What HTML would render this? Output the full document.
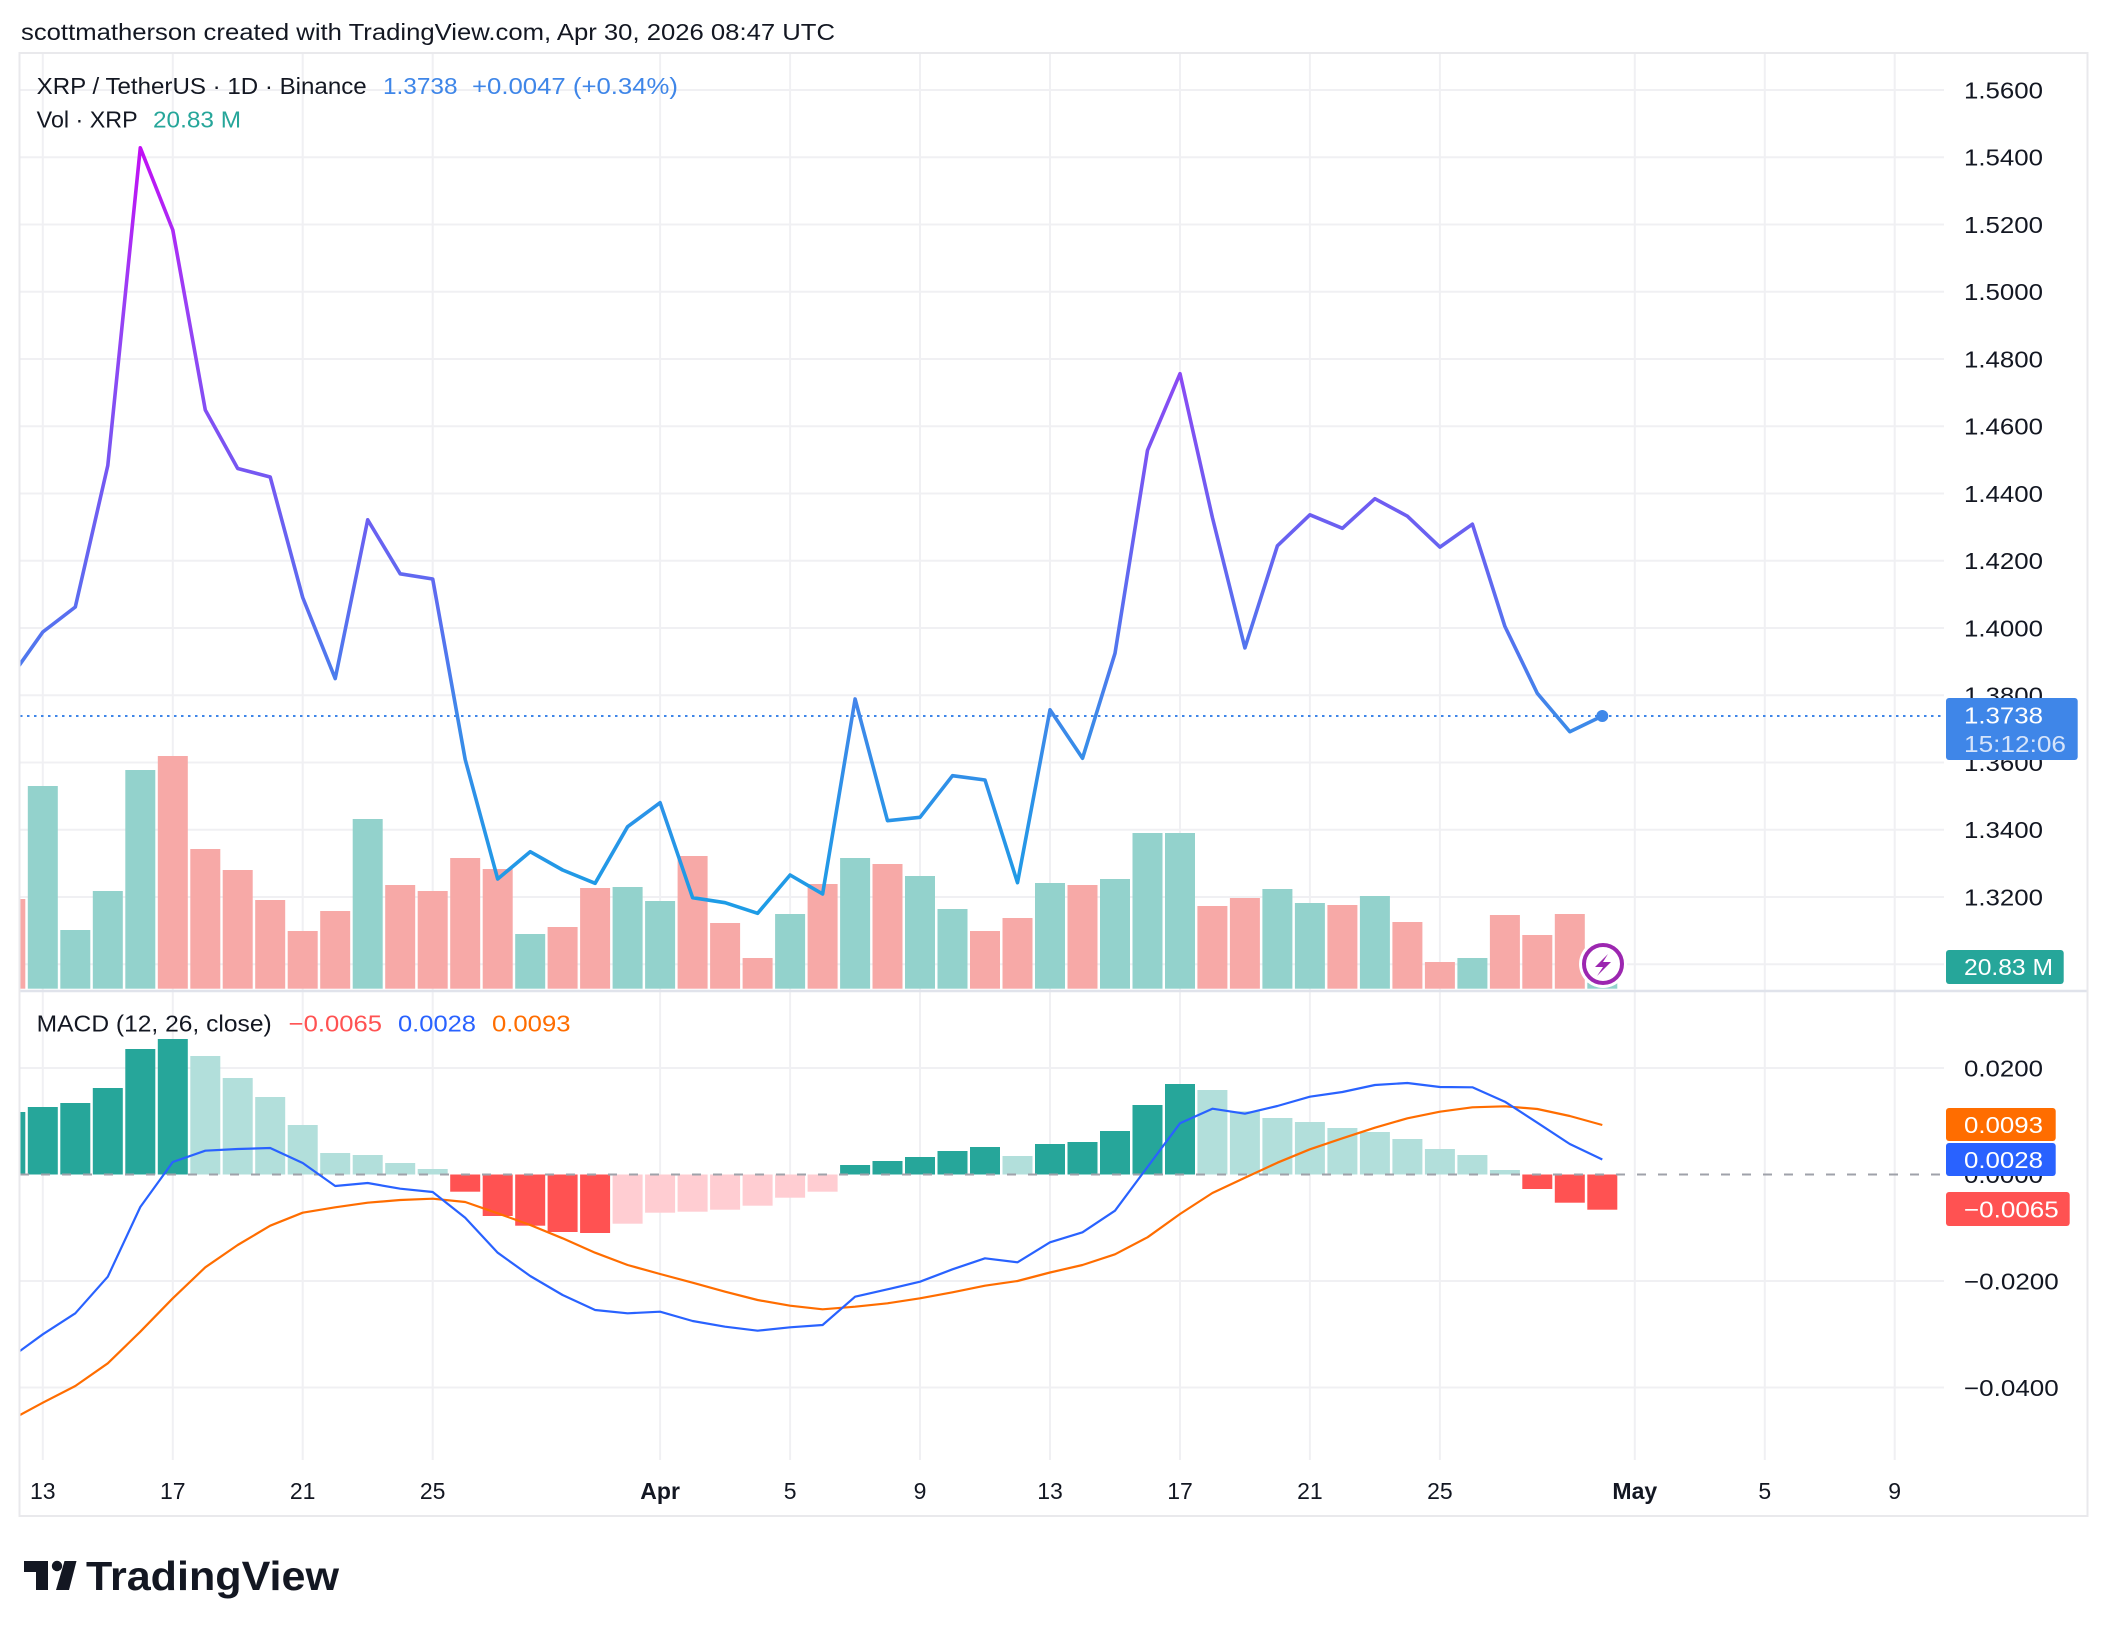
<!DOCTYPE html>
<html>
<head>
<meta charset="utf-8">
<style>
  html,body{margin:0;padding:0;background:#ffffff;}
  body{width:2108px;height:1636px;overflow:hidden;}
  svg{display:block;}
  text{font-family:"Liberation Sans",Arial,sans-serif;}
</style>
</head>
<body>
<svg width="2108" height="1636" viewBox="0 0 2108 1636" xmlns="http://www.w3.org/2000/svg">
  <defs>
    <clipPath id="pricePane"><rect x="20" y="54" width="1924" height="936"/></clipPath>
    <clipPath id="macdPane"><rect x="20" y="992" width="1924" height="468"/></clipPath>
    <linearGradient id="pg" gradientUnits="userSpaceOnUse" x1="0" y1="140" x2="0" y2="920">
      <stop offset="0.01" stop-color="#c20ef5"/>
      <stop offset="0.205" stop-color="#9a3ff5"/>
      <stop offset="0.423" stop-color="#7657f2"/>
      <stop offset="0.59" stop-color="#5c6cf0"/>
      <stop offset="0.667" stop-color="#4f78ee"/>
      <stop offset="0.738" stop-color="#3f88e9"/>
      <stop offset="0.846" stop-color="#2c92e8"/>
      <stop offset="0.974" stop-color="#1e9ce6"/>
    </linearGradient>
  </defs>

  <rect x="0" y="0" width="2108" height="1636" fill="#ffffff"/>

  <!-- Title -->
  <text x="21" y="40" font-size="23" fill="#131722" textLength="814" lengthAdjust="spacingAndGlyphs">scottmatherson created with TradingView.com, Apr 30, 2026 08:47 UTC</text>

  <!-- vertical grid -->
  <g stroke="#f0f0f3" stroke-width="2">
    <line x1="42.8" y1="54" x2="42.8" y2="1460"/>
    <line x1="172.8" y1="54" x2="172.8" y2="1460"/>
    <line x1="302.7" y1="54" x2="302.7" y2="1460"/>
    <line x1="432.7" y1="54" x2="432.7" y2="1460"/>
    <line x1="660.1" y1="54" x2="660.1" y2="1460"/>
    <line x1="790.1" y1="54" x2="790.1" y2="1460"/>
    <line x1="920" y1="54" x2="920" y2="1460"/>
    <line x1="1050" y1="54" x2="1050" y2="1460"/>
    <line x1="1180" y1="54" x2="1180" y2="1460"/>
    <line x1="1309.9" y1="54" x2="1309.9" y2="1460"/>
    <line x1="1439.9" y1="54" x2="1439.9" y2="1460"/>
    <line x1="1634.8" y1="54" x2="1634.8" y2="1460"/>
    <line x1="1764.8" y1="54" x2="1764.8" y2="1460"/>
    <line x1="1894.7" y1="54" x2="1894.7" y2="1460"/>
  </g>
  <!-- horizontal price grid -->
  <g stroke="#f0f0f3" stroke-width="2">
    <line x1="20" y1="90" x2="1944" y2="90"/>
    <line x1="20" y1="157.25" x2="1944" y2="157.25"/>
    <line x1="20" y1="224.5" x2="1944" y2="224.5"/>
    <line x1="20" y1="291.75" x2="1944" y2="291.75"/>
    <line x1="20" y1="359" x2="1944" y2="359"/>
    <line x1="20" y1="426.25" x2="1944" y2="426.25"/>
    <line x1="20" y1="493.5" x2="1944" y2="493.5"/>
    <line x1="20" y1="560.75" x2="1944" y2="560.75"/>
    <line x1="20" y1="628" x2="1944" y2="628"/>
    <line x1="20" y1="695.25" x2="1944" y2="695.25"/>
    <line x1="20" y1="762.5" x2="1944" y2="762.5"/>
    <line x1="20" y1="829.75" x2="1944" y2="829.75"/>
    <line x1="20" y1="897" x2="1944" y2="897"/>
    <line x1="20" y1="964.25" x2="1944" y2="964.25"/>
    <!-- macd grid -->
    <line x1="20" y1="1068" x2="1944" y2="1068"/>
    <line x1="20" y1="1281" x2="1944" y2="1281"/>
    <line x1="20" y1="1387.5" x2="1944" y2="1387.5"/>
  </g>

  <!-- Volume bars -->
  <g clip-path="url(#pricePane)">
    <g fill="#f7a9a7">
      <rect x="-4.7" y="899" width="30" height="89.7"/>
      <rect x="157.8" y="756" width="30" height="232.7"/>
      <rect x="190.3" y="849" width="30" height="139.7"/>
      <rect x="222.7" y="870" width="30" height="118.7"/>
      <rect x="255.2" y="900" width="30" height="88.7"/>
      <rect x="287.7" y="931" width="30" height="57.7"/>
      <rect x="320.2" y="911" width="30" height="77.7"/>
      <rect x="385.2" y="885" width="30" height="103.7"/>
      <rect x="417.7" y="891" width="30" height="97.7"/>
      <rect x="450.2" y="858" width="30" height="130.7"/>
      <rect x="482.7" y="869" width="30" height="119.7"/>
      <rect x="547.6" y="927" width="30" height="61.7"/>
      <rect x="580.1" y="888" width="30" height="100.7"/>
      <rect x="677.6" y="856" width="30" height="132.7"/>
      <rect x="710.1" y="923" width="30" height="65.7"/>
      <rect x="742.6" y="958" width="30" height="30.7"/>
      <rect x="807.6" y="884" width="30" height="104.7"/>
      <rect x="872.5" y="864" width="30" height="124.7"/>
      <rect x="970" y="931" width="30" height="57.7"/>
      <rect x="1002.5" y="918" width="30" height="70.7"/>
      <rect x="1067.5" y="885" width="30" height="103.7"/>
      <rect x="1197.4" y="906" width="30" height="82.7"/>
      <rect x="1229.9" y="898" width="30" height="90.7"/>
      <rect x="1327.4" y="905" width="30" height="83.7"/>
      <rect x="1392.4" y="922" width="30" height="66.7"/>
      <rect x="1424.9" y="962" width="30" height="26.7"/>
      <rect x="1489.9" y="915" width="30" height="73.7"/>
      <rect x="1522.3" y="935" width="30" height="53.7"/>
      <rect x="1554.8" y="914" width="30" height="74.7"/>
    </g>
    <g fill="#93d2cc">
      <rect x="27.8" y="786" width="30" height="202.7"/>
      <rect x="60.3" y="930" width="30" height="58.7"/>
      <rect x="92.8" y="891" width="30" height="97.7"/>
      <rect x="125.3" y="770" width="30" height="218.7"/>
      <rect x="352.7" y="819" width="30" height="169.7"/>
      <rect x="515.2" y="934" width="30" height="54.7"/>
      <rect x="612.6" y="887" width="30" height="101.7"/>
      <rect x="645.1" y="901" width="30" height="87.7"/>
      <rect x="775.1" y="914" width="30" height="74.7"/>
      <rect x="840.1" y="858" width="30" height="130.7"/>
      <rect x="905" y="876" width="30" height="112.7"/>
      <rect x="937.5" y="909" width="30" height="79.7"/>
      <rect x="1035" y="883" width="30" height="105.7"/>
      <rect x="1100" y="879" width="30" height="109.7"/>
      <rect x="1132.5" y="833" width="30" height="155.7"/>
      <rect x="1165" y="833" width="30" height="155.7"/>
      <rect x="1262.4" y="889" width="30" height="99.7"/>
      <rect x="1294.9" y="903" width="30" height="85.7"/>
      <rect x="1359.9" y="896" width="30" height="92.7"/>
      <rect x="1457.4" y="958" width="30" height="30.7"/>
      <rect x="1587.3" y="982.7" width="30" height="6"/>
    </g>

    <!-- current price dotted line -->
    <line x1="20" y1="716" x2="1944" y2="716" stroke="#3f86e8" stroke-width="2" stroke-dasharray="2.5 4.5"/>

    <!-- Price line -->
    <polyline fill="none" stroke="url(#pg)" stroke-width="3.6" stroke-linejoin="round" stroke-linecap="round"
      points="10.3,678 42.8,632 75.3,607 107.8,465.5 140.3,147.8 172.8,230 205.3,410 237.7,468.5 270.2,477 302.7,597.5 335.2,678.6 367.7,519.8 400.2,573.8 432.7,579 465.2,759.5 497.7,879 530.2,851.7 562.6,870 595.1,883.3 627.6,826.7 660.1,802.7 692.6,897.7 725.1,902.7 757.6,913.3 790.1,875 822.6,894 855.1,699 887.5,820.7 920,817.3 952.5,775.7 985,780 1017.5,882.7 1050,709.8 1082.5,758.3 1115,653.3 1147.5,450.3 1180,373.7 1212.4,517.5 1244.9,647.9 1277.4,545.8 1309.9,514.8 1342.4,528.3 1374.9,498.7 1407.4,516.2 1439.9,547.1 1472.4,524.2 1504.9,626.4 1537.3,693.3 1569.8,731.7 1602.3,716"/>
    <circle cx="1602.3" cy="716" r="6" fill="#3f88e9"/>

    <!-- lightning icon -->
    <circle cx="1603" cy="964" r="24" fill="#ffffff"/>
    <circle cx="1603" cy="964" r="19" fill="#ffffff" stroke="#9c27b0" stroke-width="4"/>
    <path d="M1608,954 L1595,967 L1603,967 L1597,976 L1611,962 L1603,962 Z" fill="#9c27b0"/>
  </g>

  <!-- pane separator -->
  <line x1="20" y1="991" x2="2087" y2="991" stroke="#e0e3eb" stroke-width="2.5"/>

  <!-- MACD pane -->
  <g clip-path="url(#macdPane)">
    <g fill="#26a69a">
      <rect x="-4.7" y="1112" width="30" height="62.5"/>
      <rect x="27.8" y="1107" width="30" height="67.5"/>
      <rect x="60.3" y="1103" width="30" height="71.5"/>
      <rect x="92.8" y="1088" width="30" height="86.5"/>
      <rect x="125.3" y="1049" width="30" height="125.5"/>
      <rect x="157.8" y="1039" width="30" height="135.5"/>
      <rect x="840.1" y="1165" width="30" height="9.5"/>
      <rect x="872.5" y="1161" width="30" height="13.5"/>
      <rect x="905" y="1157" width="30" height="17.5"/>
      <rect x="937.5" y="1151" width="30" height="23.5"/>
      <rect x="970" y="1147" width="30" height="27.5"/>
      <rect x="1035" y="1144" width="30" height="30.5"/>
      <rect x="1067.5" y="1142" width="30" height="32.5"/>
      <rect x="1100" y="1131" width="30" height="43.5"/>
      <rect x="1132.5" y="1105" width="30" height="69.5"/>
      <rect x="1165" y="1084" width="30" height="90.5"/>
    </g>
    <g fill="#b2dfdb">
      <rect x="190.3" y="1056" width="30" height="118.5"/>
      <rect x="222.7" y="1078" width="30" height="96.5"/>
      <rect x="255.2" y="1097" width="30" height="77.5"/>
      <rect x="287.7" y="1125" width="30" height="49.5"/>
      <rect x="320.2" y="1153" width="30" height="21.5"/>
      <rect x="352.7" y="1155" width="30" height="19.5"/>
      <rect x="385.2" y="1163" width="30" height="11.5"/>
      <rect x="417.7" y="1169" width="30" height="5.5"/>
      <rect x="1002.5" y="1156" width="30" height="18.5"/>
      <rect x="1197.4" y="1090" width="30" height="84.5"/>
      <rect x="1229.9" y="1111.3" width="30" height="63.2"/>
      <rect x="1262.4" y="1118" width="30" height="56.5"/>
      <rect x="1294.9" y="1122" width="30" height="52.5"/>
      <rect x="1327.4" y="1128" width="30" height="46.5"/>
      <rect x="1359.9" y="1132" width="30" height="42.5"/>
      <rect x="1392.4" y="1139" width="30" height="35.5"/>
      <rect x="1424.9" y="1149" width="30" height="25.5"/>
      <rect x="1457.4" y="1155" width="30" height="19.5"/>
      <rect x="1489.9" y="1170" width="30" height="4.5"/>
    </g>
    <g fill="#ff5252">
      <rect x="450.2" y="1174.5" width="30" height="17.2"/>
      <rect x="482.7" y="1174.5" width="30" height="41.5"/>
      <rect x="515.2" y="1174.5" width="30" height="51.2"/>
      <rect x="547.6" y="1174.5" width="30" height="57.5"/>
      <rect x="580.1" y="1174.5" width="30" height="58.5"/>
      <rect x="1522.3" y="1174.5" width="30" height="14.5"/>
      <rect x="1554.8" y="1174.5" width="30" height="28.2"/>
      <rect x="1587.3" y="1174.5" width="30" height="35.2"/>
    </g>
    <g fill="#ffcdd2">
      <rect x="612.6" y="1174.5" width="30" height="49.2"/>
      <rect x="645.1" y="1174.5" width="30" height="38.2"/>
      <rect x="677.6" y="1174.5" width="30" height="37.2"/>
      <rect x="710.1" y="1174.5" width="30" height="35.2"/>
      <rect x="742.6" y="1174.5" width="30" height="31.2"/>
      <rect x="775.1" y="1174.5" width="30" height="23.2"/>
      <rect x="807.6" y="1174.5" width="30" height="17.2"/>
    </g>

    <line x1="20" y1="1174.5" x2="1944" y2="1174.5" stroke="#9fa2aa" stroke-width="2" stroke-dasharray="9 12"/>

    <polyline fill="none" stroke="#ff6d00" stroke-width="2.2" stroke-linejoin="round"
      points="10.3,1420.2 42.8,1402.7 75.3,1386 107.8,1363.3 140.3,1331.7 172.8,1298.3 205.3,1267.3 237.7,1245 270.2,1225.7 302.7,1212.7 335.2,1207.3 367.7,1202.7 400.2,1200 432.7,1198.7 465.2,1202 497.7,1213.3 530.2,1225 562.6,1238.3 595.1,1252.7 627.6,1265 660.1,1274 692.6,1282.7 725.1,1291.7 757.6,1300 790.1,1305.7 822.6,1309.3 855.1,1306.7 887.5,1303.3 920,1298.3 952.5,1292.3 985,1285.7 1017.5,1281 1050,1272.5 1082.5,1265 1115,1254.3 1147.5,1237.3 1180,1214 1212.4,1193 1244.9,1177.7 1277.4,1162.7 1309.9,1149.3 1342.4,1138.3 1374.9,1127.7 1407.4,1118.3 1439.9,1111.7 1472.4,1107.3 1504.9,1106.3 1537.3,1109 1569.8,1116 1602.3,1125"/>
    <polyline fill="none" stroke="#2962ff" stroke-width="2.2" stroke-linejoin="round"
      points="10.3,1358 42.8,1334.3 75.3,1313.3 107.8,1276.7 140.3,1207 172.8,1162 205.3,1150.7 237.7,1149 270.2,1148 302.7,1163 335.2,1186 367.7,1183 400.2,1188.7 432.7,1192 465.2,1217.7 497.7,1252.7 530.2,1276 562.6,1295 595.1,1310 627.6,1313.3 660.1,1311.7 692.6,1321 725.1,1326.7 757.6,1330.7 790.1,1327.3 822.6,1325 855.1,1296.7 887.5,1289.3 920,1281.7 952.5,1269.3 985,1258.3 1017.5,1262.3 1050,1242.3 1082.5,1232.3 1115,1210.7 1147.5,1167 1180,1123.3 1212.4,1108.7 1244.9,1113.7 1277.4,1106 1309.9,1096.7 1342.4,1092 1374.9,1085 1407.4,1083 1439.9,1087 1472.4,1087.3 1504.9,1101.7 1537.3,1122.7 1569.8,1144 1602.3,1159.5"/>
  </g>

  <!-- Legends -->
  <text x="36.7" y="94.2" font-size="23" fill="#131722" textLength="330" lengthAdjust="spacingAndGlyphs">XRP / TetherUS · 1D · Binance</text>
  <text x="383" y="94.2" font-size="23" fill="#3f86e8" textLength="74.5" lengthAdjust="spacingAndGlyphs">1.3738</text>
  <text x="472" y="94.2" font-size="23" fill="#3f86e8" textLength="206" lengthAdjust="spacingAndGlyphs">+0.0047 (+0.34%)</text>
  <text x="36.7" y="127.3" font-size="23" fill="#131722" textLength="101" lengthAdjust="spacingAndGlyphs">Vol · XRP</text>
  <text x="153" y="127.3" font-size="23" fill="#26a69a" textLength="88" lengthAdjust="spacingAndGlyphs">20.83 M</text>

  <text x="36.7" y="1031.5" font-size="23" fill="#131722" textLength="235" lengthAdjust="spacingAndGlyphs">MACD (12, 26, close)</text>
  <text x="288.7" y="1031.5" font-size="23" fill="#ff5252" textLength="93.3" lengthAdjust="spacingAndGlyphs">−0.0065</text>
  <text x="398" y="1031.5" font-size="23" fill="#2962ff" textLength="78" lengthAdjust="spacingAndGlyphs">0.0028</text>
  <text x="492" y="1031.5" font-size="23" fill="#ff6d00" textLength="78.5" lengthAdjust="spacingAndGlyphs">0.0093</text>

  <!-- Price axis labels -->
  <g font-size="23" fill="#131722">
    <text x="1964" y="98.3" textLength="79" lengthAdjust="spacingAndGlyphs">1.5600</text>
    <text x="1964" y="165.5" textLength="79" lengthAdjust="spacingAndGlyphs">1.5400</text>
    <text x="1964" y="232.8" textLength="79" lengthAdjust="spacingAndGlyphs">1.5200</text>
    <text x="1964" y="300" textLength="79" lengthAdjust="spacingAndGlyphs">1.5000</text>
    <text x="1964" y="367.3" textLength="79" lengthAdjust="spacingAndGlyphs">1.4800</text>
    <text x="1964" y="434.5" textLength="79" lengthAdjust="spacingAndGlyphs">1.4600</text>
    <text x="1964" y="501.8" textLength="79" lengthAdjust="spacingAndGlyphs">1.4400</text>
    <text x="1964" y="569" textLength="79" lengthAdjust="spacingAndGlyphs">1.4200</text>
    <text x="1964" y="636.3" textLength="79" lengthAdjust="spacingAndGlyphs">1.4000</text>
    <text x="1964" y="703.5" textLength="79" lengthAdjust="spacingAndGlyphs">1.3800</text>
    <text x="1964" y="770.8" textLength="79" lengthAdjust="spacingAndGlyphs">1.3600</text>
    <text x="1964" y="838" textLength="79" lengthAdjust="spacingAndGlyphs">1.3400</text>
    <text x="1964" y="905.3" textLength="79" lengthAdjust="spacingAndGlyphs">1.3200</text>
    <!-- MACD axis -->
    <text x="1964" y="1076.3" textLength="79" lengthAdjust="spacingAndGlyphs">0.0200</text>
    <text x="1964" y="1182.8" textLength="79" lengthAdjust="spacingAndGlyphs">0.0000</text>
    <text x="1964" y="1289.3" textLength="94.7" lengthAdjust="spacingAndGlyphs">−0.0200</text>
    <text x="1964" y="1395.8" textLength="94.7" lengthAdjust="spacingAndGlyphs">−0.0400</text>
  </g>

  <!-- Axis value boxes -->
  <rect x="1946" y="698" width="131.7" height="62" rx="3" fill="#3f86e8"/>
  <text x="1964" y="723.5" font-size="23" fill="#ffffff" textLength="79" lengthAdjust="spacingAndGlyphs">1.3738</text>
  <text x="1964" y="752" font-size="23" fill="#d6e4fa" textLength="102" lengthAdjust="spacingAndGlyphs">15:12:06</text>

  <rect x="1946" y="950" width="117.7" height="34" rx="3" fill="#26a69a"/>
  <text x="1964" y="975.2" font-size="23" fill="#ffffff" textLength="89" lengthAdjust="spacingAndGlyphs">20.83 M</text>

  <rect x="1946" y="1108" width="109.7" height="33" rx="3" fill="#ff6d00"/>
  <text x="1964" y="1132.8" font-size="23" fill="#ffffff" textLength="79" lengthAdjust="spacingAndGlyphs">0.0093</text>

  <rect x="1946" y="1143" width="109.7" height="33" rx="3" fill="#2962ff"/>
  <text x="1964" y="1167.8" font-size="23" fill="#ffffff" textLength="79" lengthAdjust="spacingAndGlyphs">0.0028</text>

  <rect x="1946" y="1192" width="123.7" height="34" rx="3" fill="#ff5252"/>
  <text x="1964" y="1217.3" font-size="23" fill="#ffffff" textLength="94.7" lengthAdjust="spacingAndGlyphs">−0.0065</text>

  <!-- Time axis labels -->
  <g font-size="23" fill="#131722" text-anchor="middle">
    <text x="42.8" y="1499">13</text>
    <text x="172.8" y="1499">17</text>
    <text x="302.7" y="1499">21</text>
    <text x="432.7" y="1499">25</text>
    <text x="660.1" y="1499" font-weight="bold">Apr</text>
    <text x="790.1" y="1499">5</text>
    <text x="920" y="1499">9</text>
    <text x="1050" y="1499">13</text>
    <text x="1180" y="1499">17</text>
    <text x="1309.9" y="1499">21</text>
    <text x="1439.9" y="1499">25</text>
    <text x="1634.8" y="1499" font-weight="bold">May</text>
    <text x="1764.8" y="1499">5</text>
    <text x="1894.7" y="1499">9</text>
  </g>

  <!-- Frame -->
  <rect x="19.5" y="53" width="2068" height="1463" fill="none" stroke="#e9e9ec" stroke-width="2"/>

  <!-- TradingView logo -->
  <g fill="#131722">
    <path d="M24,1561 H48 V1590 H36 V1572 H24 Z"/>
    <circle cx="57" cy="1566" r="5.2"/>
    <path d="M64.5,1561 H76.5 L69,1590 H56 Z"/>
  </g>
  <text x="86" y="1590" font-size="41" font-weight="bold" fill="#131722" textLength="253" lengthAdjust="spacingAndGlyphs">TradingView</text>
</svg>
</body>
</html>
